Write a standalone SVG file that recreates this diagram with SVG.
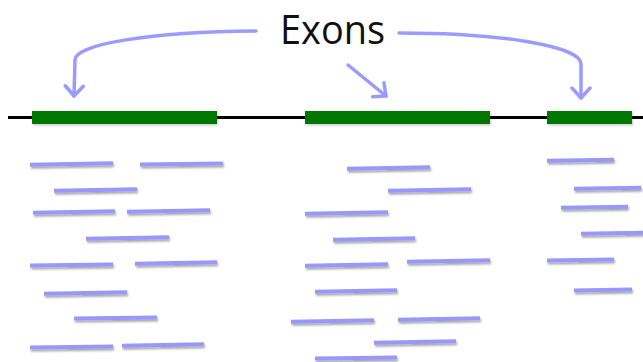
<svg xmlns="http://www.w3.org/2000/svg" width="643" height="362" viewBox="0 0 643 362">
  <defs>
    <!-- shadows use canvas-wide regions so thin horizontal strokes are not clipped -->
    <filter id="shadow" filterUnits="userSpaceOnUse" x="0" y="0" width="643" height="362">
      <feDropShadow dx="1" dy="2" stdDeviation="1.2" flood-color="#000" flood-opacity="0.35"/>
    </filter>
    <filter id="soft" filterUnits="userSpaceOnUse" x="0" y="0" width="643" height="362">
      <feDropShadow dx="1" dy="1.5" stdDeviation="1" flood-color="#000" flood-opacity="0.2"/>
    </filter>
    <marker id="vhead" markerUnits="userSpaceOnUse" markerWidth="24" markerHeight="24" refX="12" refY="12" orient="auto">
      <path d="M2,3 L12,12 L2,21" fill="none" stroke="#9b9bff" stroke-width="3.5" stroke-linecap="round" stroke-linejoin="round"/>
    </marker>
  </defs>
  <style>
    .read { stroke: #9898fa; stroke-width: 4; stroke-linecap: butt; filter: url(#shadow); }
    .exon { fill: #007800; filter: url(#soft); }
    .pointer { fill: none; stroke: #9b9bff; stroke-width: 3.5; stroke-linecap: round; marker-end: url(#vhead); }
    .label { font-family: "Open Sans", "Liberation Sans", sans-serif; font-size: 41px; fill: #111; }
  </style>

  <rect width="643" height="362" fill="#fff"/>

  <!-- gene model: intron backbone and exon blocks -->
  <g id="backbone">
    <line x1="8" y1="117.5" x2="643" y2="117.5" stroke="#000" stroke-width="3"/>
  </g>
  <g id="exon1"><rect class="exon" x="32" y="111" width="185" height="13"/></g>
  <g id="exon2"><rect class="exon" x="305" y="111" width="185" height="13"/></g>
  <g id="exon3"><rect class="exon" x="547" y="111" width="85" height="13"/></g>

  <g id="title"><text class="label" x="280" y="44" textLength="105" lengthAdjust="spacingAndGlyphs">Exons</text></g>

  <!-- pointers from the label to each exon -->
  <g id="connectors">
    <path class="pointer" d="M256,31 C150,32 75,44 75,60 L74,96"/>
    <path class="pointer" d="M348,65 L386,96"/>
    <path class="pointer" d="M399,33 C500,33 581,46 581,64 L581,98"/>
  </g>

  <!-- aligned reads -->
  <g id="reads-exon1">
    <line class="read" x1="30" y1="164.7" x2="113" y2="163.3"/>
    <line class="read" x1="140" y1="164.5" x2="223" y2="163.5"/>
    <line class="read" x1="54" y1="190.7" x2="137" y2="189.3"/>
    <line class="read" x1="33" y1="212.7" x2="115" y2="211.3"/>
    <line class="read" x1="127" y1="211.7" x2="210" y2="210.3"/>
    <line class="read" x1="86" y1="238.7" x2="169" y2="237.3"/>
    <line class="read" x1="30" y1="265.5" x2="113" y2="264.5"/>
    <line class="read" x1="135" y1="263.7" x2="217" y2="262.3"/>
    <line class="read" x1="44" y1="293.7" x2="127" y2="292.3"/>
    <line class="read" x1="74" y1="318.5" x2="157" y2="317.5"/>
    <line class="read" x1="30" y1="347.5" x2="113" y2="346.5"/>
    <line class="read" x1="122" y1="345.7" x2="204" y2="344.3"/>
  </g>
  <g id="reads-exon2">
    <line class="read" x1="347" y1="168.7" x2="430" y2="167.3"/>
    <line class="read" x1="388" y1="190.7" x2="471" y2="189.3"/>
    <line class="read" x1="305" y1="213.7" x2="388" y2="212.3"/>
    <line class="read" x1="333" y1="239.7" x2="415" y2="238.3"/>
    <line class="read" x1="305" y1="265.7" x2="388" y2="264.3"/>
    <line class="read" x1="407" y1="261.7" x2="490" y2="260.3"/>
    <line class="read" x1="315" y1="291.7" x2="397" y2="290.3"/>
    <line class="read" x1="291" y1="321.7" x2="374" y2="320.3"/>
    <line class="read" x1="398" y1="319.7" x2="480" y2="318.3"/>
    <line class="read" x1="374" y1="342.7" x2="456" y2="341.3"/>
    <line class="read" x1="315" y1="358.5" x2="397" y2="357.5"/>
  </g>
  <g id="reads-exon3">
    <line class="read" x1="547" y1="160.7" x2="614" y2="159.7"/>
    <line class="read" x1="574" y1="188.7" x2="641" y2="187.7"/>
    <line class="read" x1="561" y1="207.7" x2="628" y2="206.7"/>
    <line class="read" x1="581" y1="233.7" x2="643" y2="232.7"/>
    <line class="read" x1="547" y1="260.5" x2="614" y2="259.5"/>
    <line class="read" x1="574" y1="290.5" x2="632" y2="289.5"/>
  </g>
</svg>
